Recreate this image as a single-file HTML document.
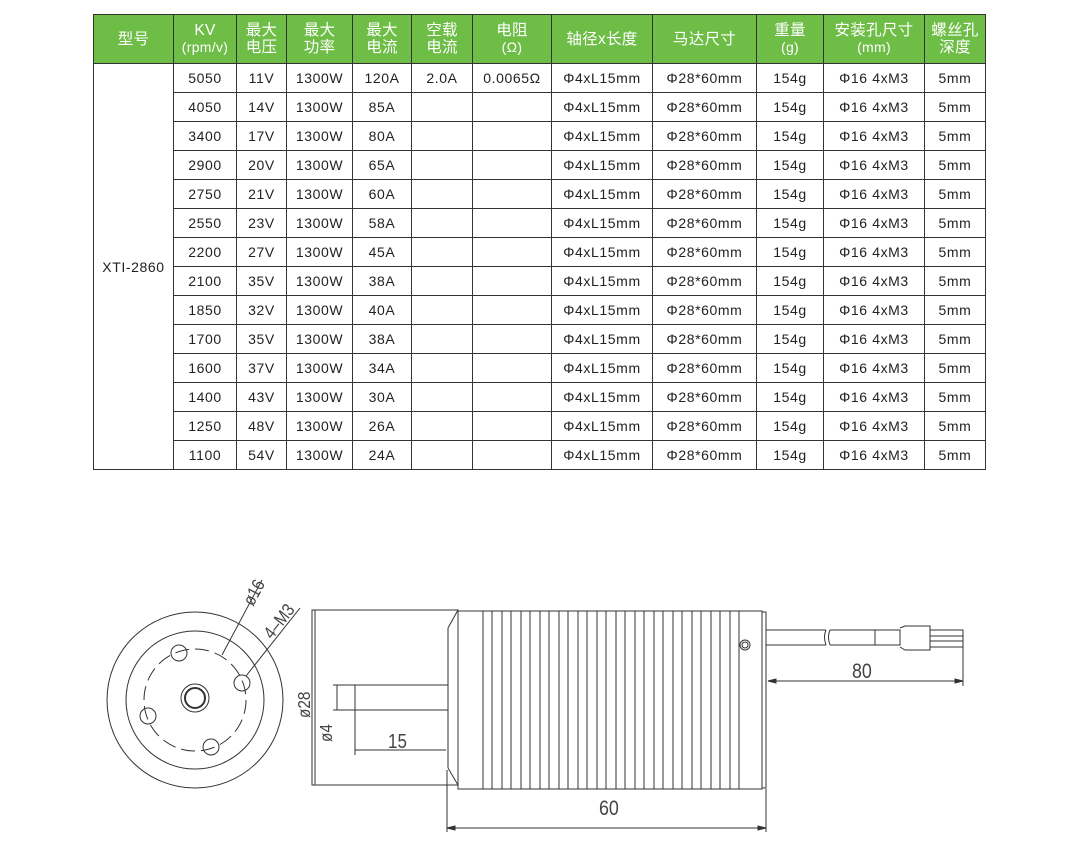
<!DOCTYPE html>
<html><head><meta charset="utf-8"><style>
body{margin:0;width:1079px;height:863px;background:#fff;position:relative;overflow:hidden;font-family:"Liberation Sans","Noto Sans CJK SC",sans-serif;}
table{position:absolute;left:93px;top:14px;border-collapse:collapse;table-layout:fixed;}
td,th{border:1px solid #333;text-align:center;padding:0;font-size:14px;letter-spacing:0.6px;color:#222;height:28px;white-space:nowrap;}
th{background:#6dbd46;color:#fff;font-weight:normal;height:48px;font-size:15.5px;line-height:17px;letter-spacing:0.3px;}
th small{font-size:14px;}
svg{position:absolute;left:0;top:0;}
svg text{font-family:"Liberation Sans",sans-serif;fill:#444;}
</style></head><body>
<table>
<colgroup><col style="width:80px"><col style="width:63px"><col style="width:50px"><col style="width:66px"><col style="width:59px"><col style="width:61px"><col style="width:79px"><col style="width:101px"><col style="width:104px"><col style="width:67px"><col style="width:101px"><col style="width:61px"></colgroup>
<tr><th>型号</th><th>KV<br><small>(rpm/v)</small></th><th>最大<br>电压</th><th>最大<br>功率</th><th>最大<br>电流</th><th>空载<br>电流</th><th>电阻<br><small>(Ω)</small></th><th>轴径x长度</th><th>马达尺寸</th><th>重量<br><small>(g)</small></th><th>安装孔尺寸<br><small>(mm)</small></th><th>螺丝孔<br>深度</th></tr>
<tr><td rowspan="14">XTI-2860</td><td>5050</td><td>11V</td><td>1300W</td><td>120A</td><td>2.0A</td><td>0.0065Ω</td><td>Φ4xL15mm</td><td>Φ28*60mm</td><td>154g</td><td>Φ16 4xM3</td><td>5mm</td></tr>
<tr><td>4050</td><td>14V</td><td>1300W</td><td>85A</td><td></td><td></td><td>Φ4xL15mm</td><td>Φ28*60mm</td><td>154g</td><td>Φ16 4xM3</td><td>5mm</td></tr>
<tr><td>3400</td><td>17V</td><td>1300W</td><td>80A</td><td></td><td></td><td>Φ4xL15mm</td><td>Φ28*60mm</td><td>154g</td><td>Φ16 4xM3</td><td>5mm</td></tr>
<tr><td>2900</td><td>20V</td><td>1300W</td><td>65A</td><td></td><td></td><td>Φ4xL15mm</td><td>Φ28*60mm</td><td>154g</td><td>Φ16 4xM3</td><td>5mm</td></tr>
<tr><td>2750</td><td>21V</td><td>1300W</td><td>60A</td><td></td><td></td><td>Φ4xL15mm</td><td>Φ28*60mm</td><td>154g</td><td>Φ16 4xM3</td><td>5mm</td></tr>
<tr><td>2550</td><td>23V</td><td>1300W</td><td>58A</td><td></td><td></td><td>Φ4xL15mm</td><td>Φ28*60mm</td><td>154g</td><td>Φ16 4xM3</td><td>5mm</td></tr>
<tr><td>2200</td><td>27V</td><td>1300W</td><td>45A</td><td></td><td></td><td>Φ4xL15mm</td><td>Φ28*60mm</td><td>154g</td><td>Φ16 4xM3</td><td>5mm</td></tr>
<tr><td>2100</td><td>35V</td><td>1300W</td><td>38A</td><td></td><td></td><td>Φ4xL15mm</td><td>Φ28*60mm</td><td>154g</td><td>Φ16 4xM3</td><td>5mm</td></tr>
<tr><td>1850</td><td>32V</td><td>1300W</td><td>40A</td><td></td><td></td><td>Φ4xL15mm</td><td>Φ28*60mm</td><td>154g</td><td>Φ16 4xM3</td><td>5mm</td></tr>
<tr><td>1700</td><td>35V</td><td>1300W</td><td>38A</td><td></td><td></td><td>Φ4xL15mm</td><td>Φ28*60mm</td><td>154g</td><td>Φ16 4xM3</td><td>5mm</td></tr>
<tr><td>1600</td><td>37V</td><td>1300W</td><td>34A</td><td></td><td></td><td>Φ4xL15mm</td><td>Φ28*60mm</td><td>154g</td><td>Φ16 4xM3</td><td>5mm</td></tr>
<tr><td>1400</td><td>43V</td><td>1300W</td><td>30A</td><td></td><td></td><td>Φ4xL15mm</td><td>Φ28*60mm</td><td>154g</td><td>Φ16 4xM3</td><td>5mm</td></tr>
<tr><td>1250</td><td>48V</td><td>1300W</td><td>26A</td><td></td><td></td><td>Φ4xL15mm</td><td>Φ28*60mm</td><td>154g</td><td>Φ16 4xM3</td><td>5mm</td></tr>
<tr><td>1100</td><td>54V</td><td>1300W</td><td>24A</td><td></td><td></td><td>Φ4xL15mm</td><td>Φ28*60mm</td><td>154g</td><td>Φ16 4xM3</td><td>5mm</td></tr>
</table>
<svg width="1079" height="863" viewBox="0 0 1079 863" fill="none" stroke="#333" stroke-width="1">
<circle cx="195" cy="700" r="88"/>
<circle cx="195" cy="700" r="69"/>
<circle cx="195" cy="700" r="51" stroke-dasharray="14,6"/>
<circle cx="195" cy="698" r="14"/>
<circle cx="195" cy="698" r="10" stroke-width="2"/>
<circle cx="179" cy="653" r="8"/>
<circle cx="242" cy="683" r="8"/>
<circle cx="148" cy="716" r="8"/>
<circle cx="211" cy="747" r="8"/>
<line x1="222" y1="655" x2="262" y2="580"/>
<line x1="246" y1="676" x2="300" y2="608"/>
<text x="0" y="0" font-size="18" stroke="none" transform="translate(253,607) rotate(-62) scale(0.85,1)">ø16</text>
<text x="0" y="0" font-size="18" stroke="none" transform="translate(272,640) rotate(-52) scale(0.85,1)">4–M3</text>
<rect x="312" y="610" width="146" height="175"/>
<line x1="448" y1="628" x2="458" y2="610"/>
<line x1="448" y1="628" x2="448" y2="768"/>
<line x1="448" y1="768" x2="458" y2="785"/>
<line x1="355" y1="685" x2="448" y2="685"/>
<line x1="355" y1="710" x2="448" y2="710"/>
<line x1="355" y1="685" x2="355" y2="710"/>
<line x1="315" y1="610" x2="315" y2="785"/>
<line x1="337" y1="685" x2="337" y2="710"/>
<line x1="333" y1="685" x2="355" y2="685"/>
<line x1="333" y1="710" x2="355" y2="710"/>
<line x1="355" y1="750" x2="446" y2="750"/>
<line x1="355" y1="710" x2="355" y2="755"/>
<text x="0" y="0" font-size="18" stroke="none" transform="translate(310,718) rotate(-90) scale(0.85,1)">ø28</text>
<text x="0" y="0" font-size="18" stroke="none" transform="translate(332,742) rotate(-90) scale(0.85,1)">ø4</text>
<text x="0" y="0" font-size="20" stroke="none" transform="translate(388,748) scale(0.85,1)">15</text>
<rect x="458" y="611" width="304" height="178"/>
<rect x="762" y="612" width="4" height="176"/>
<path d="M483 611 V789 M492 611 V789 M502 611 V789 M511 611 V789 M521 611 V789 M530 611 V789 M540 611 V789 M549 611 V789 M559 611 V789 M568 611 V789 M578 611 V789 M587 611 V789 M597 611 V789 M606 611 V789 M616 611 V789 M625 611 V789 M635 611 V789 M644 611 V789 M654 611 V789 M663 611 V789 M673 611 V789 M682 611 V789 M692 611 V789 M701 611 V789 M711 611 V789 M720 611 V789 M730 611 V789 M739 611 V789"/>
<circle cx="745" cy="645" r="5"/><circle cx="745" cy="645" r="3"/>
<path d="M766 630 H826 M830 630 H875 V645 H830 M826 645 H766"/>
<path d="M826 630 q-3 7 0 15 M830 630 q-3 7 0 15"/>
<path d="M875 630 H900 V645 H875 M900 628 L905 626 H930 V650 H905 L900 647"/>
<path d="M930 630 H963 V647 H930 M930 636 H963 M930 641 H963"/>
<line x1="963" y1="630" x2="963" y2="686"/>
<line x1="768" y1="681" x2="963" y2="681"/>
<path d="M768 681 l8 -2 v4 z M963 681 l-8 -2 v4 z" fill="#333"/>
<text x="0" y="0" font-size="21" stroke="none" transform="translate(852,678) scale(0.85,1)">80</text>
<line x1="447" y1="770" x2="447" y2="832"/>
<line x1="766" y1="789" x2="766" y2="832"/>
<line x1="447" y1="828" x2="766" y2="828"/>
<path d="M447 828 l8 -2 v4 z M766 828 l-8 -2 v4 z" fill="#333"/>
<text x="0" y="0" font-size="21" stroke="none" transform="translate(599,815) scale(0.85,1)">60</text>
</svg>
</body></html>
